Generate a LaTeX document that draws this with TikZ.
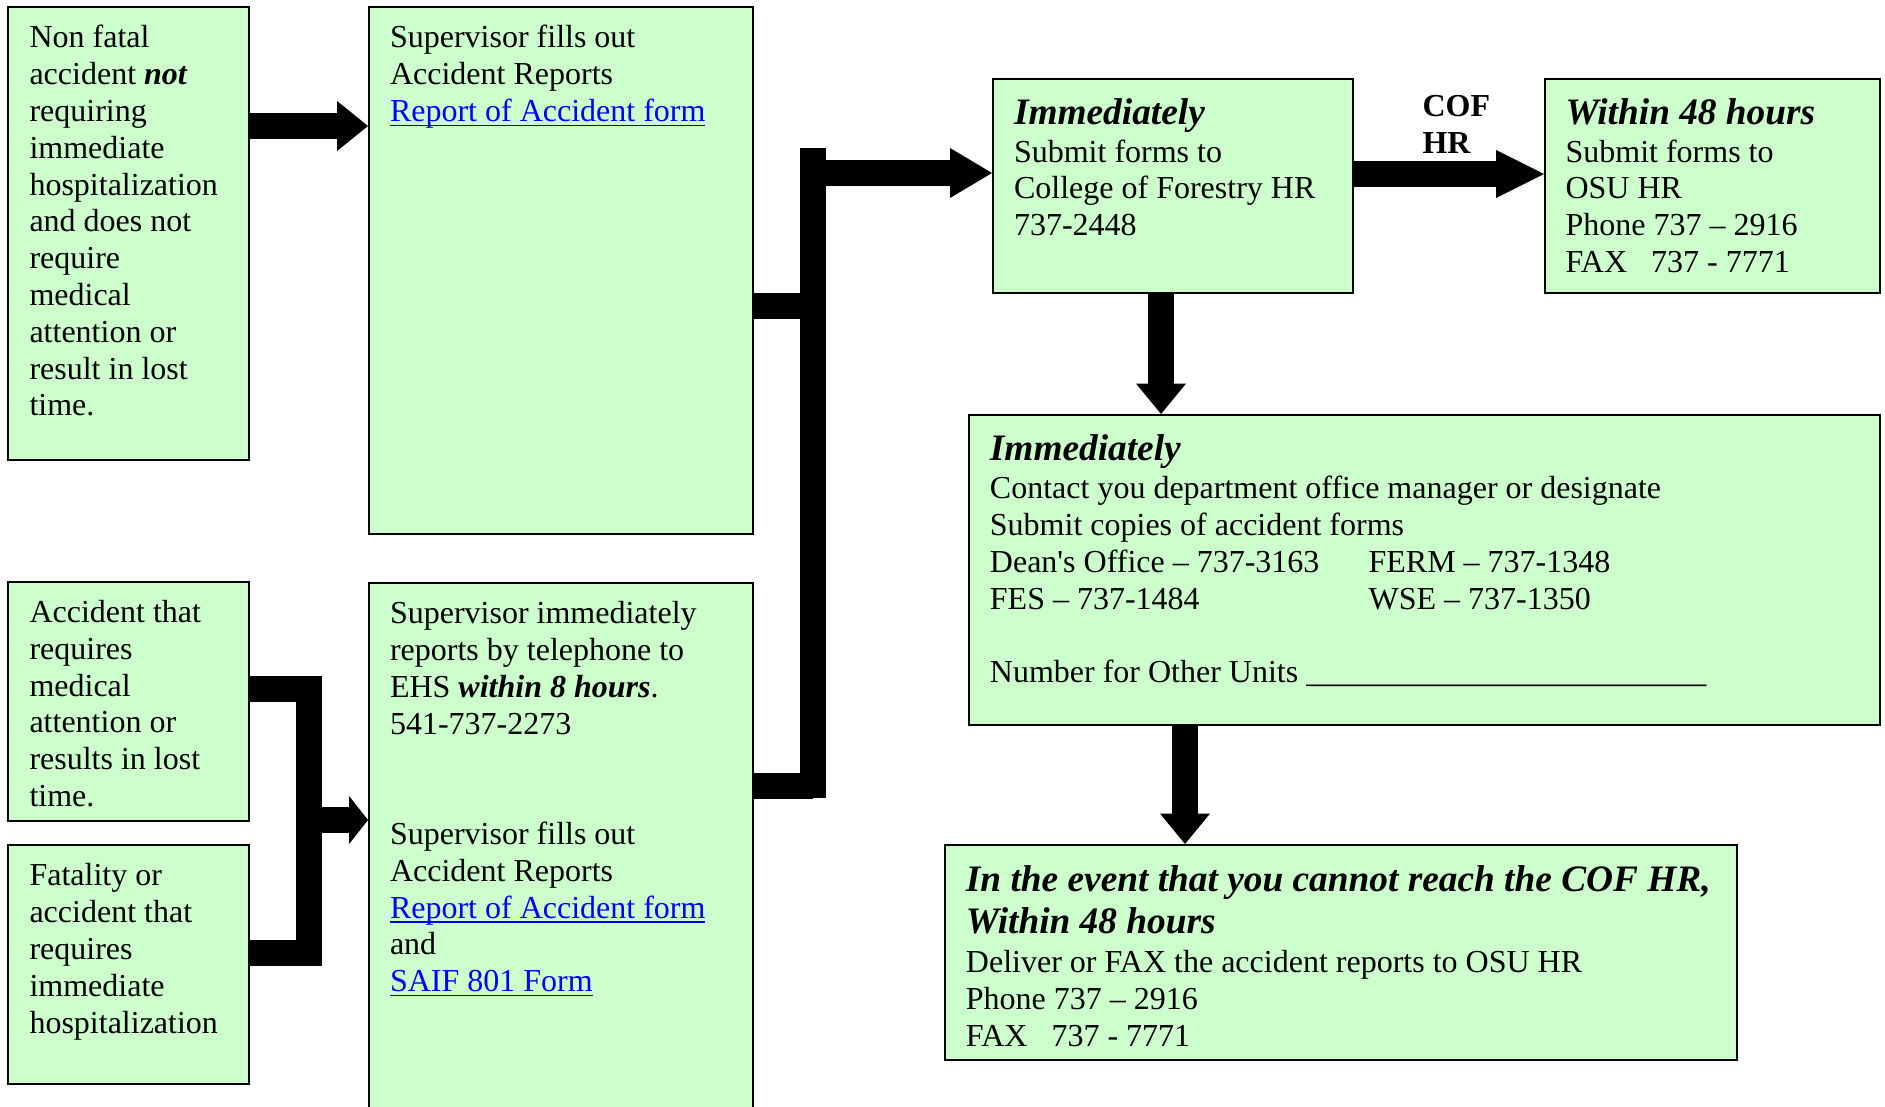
\documentclass[tikz,border=0pt]{standalone}
\usepackage{fontspec}
\setmainfont{Liberation Serif}
\usetikzlibrary{arrows.meta,fit}
\definecolor{boxgreen}{HTML}{CCFFCC}
\definecolor{linkblue}{HTML}{0000FF}
\newcommand{\hdr}[1]{{\fontsize{14}{16.1}\selectfont\bfseries\itshape #1}}
\newcommand{\lnk}[1]{\leavevmode{\color{linkblue}\setbox0=\hbox{#1}\rlap{\rule[-1.7pt]{\wd0}{0.6pt}}\box0}}
\newcommand{\bi}[1]{\textbf{\textit{#1}}}
\newcommand{\tb}[1]{\parbox[t]{330pt}{\raggedright #1}}
\begin{document}
\begin{tikzpicture}[x=0.375pt,y=-0.375pt,
  box/.style={draw=black, line width=0.75pt, fill=boxgreen, inner sep=0pt, rectangle},
  txt/.style={anchor=base west, inner sep=0pt, font=\fontsize{12}{13.8}\selectfont},
  conn/.style={line width=9.75pt, line join=miter, draw=black},
  tipA/.style={-{Triangle[length=11.6pt,width=18.75pt,line width=0pt]}},
  tipF/.style={-{Triangle[length=15.75pt,width=18.75pt,line width=0pt]}},
  tipE/.style={-{Triangle[length=7.1pt,width=18pt,line width=0pt]}},
  tipG/.style={-{Triangle[length=18pt,width=18pt,line width=0pt]}},
  tipH/.style={-{Triangle[length=11.4pt,width=18.75pt,line width=0pt]}}
]
\useasboundingbox (0,0) rectangle (1885,1107);
\clip (0,0) rectangle (1885,1107);
% boxes
\node[box, fit={(8,7) (249,460)}] (A) {};
\node[box, fit={(369,7) (753,534)}] (B) {};
\node[box, fit={(8,582) (249,821)}] (C) {};
\node[box, fit={(8,845) (249,1084)}] (D) {};
\node[box, fit={(369,583) (753,1130)}] (E) {};
\node[box, fit={(993,79) (1353,293)}] (F) {};
\node[box, fit={(1545,79) (1880,293)}] (G) {};
\node[box, fit={(969,415) (1880,725)}] (H) {};
\node[box, fit={(945,845) (1737,1060)}] (I) {};
% connectors
\coordinate (busTop) at (813,148);
\coordinate (busBot) at (813,798);
\coordinate (cdBus) at (309,689);
\draw[conn, tipA] (A.east |- 0,126) -- (B.west |- 0,126);
\draw[conn] (busTop) -- (busBot);
\draw[conn] (B.east |- 0,306) -- (busTop |- 0,306);
\draw[conn] (E.east |- 0,786) -- (busTop |- 0,786);
\draw[conn, tipF] (800,173) -- (F.west |- 0,173);
\draw[conn] (C.east |- cdBus) -- (cdBus) -- (cdBus |- 0,953) -- (D.east |- 0,953);
\draw[conn, tipE] (cdBus |- 0,820) -- (E.west |- 0,820);
\draw[conn, tipG] (F.east |- 0,174) -- (G.west |- 0,174);
\draw[conn, tipH] (F.south -| 1161,0) -- (H.north -| 1161,0);
\draw[conn, tipH] (H.south -| 1185,0) -- (I.north -| 1185,0);
% texts
\node[txt] (tA) at (29,48) {\tb{Non fatal\\accident \bi{not}\\requiring\\immediate\\hospitalization\\and does not\\require\\medical\\attention or\\result in lost\\time.}};
\node[txt] (tB) at (389.5,48) {\tb{Supervisor fills out\\Accident Reports\\\lnk{Report of Accident form}}};
\node[txt] (tC) at (29,622.5) {\tb{Accident that\\requires\\medical\\attention or\\results in lost\\time.}};
\node[txt] (tD) at (29,885.8) {\tb{Fatality or\\accident that\\requires\\immediate\\hospitalization}};
\node[txt] (tE) at (389.5,623.7) {\tb{Supervisor immediately\\reports by telephone to\\EHS \bi{within 8 hours}.\\541-737-2273\\[27.6pt]Supervisor fills out\\Accident Reports\\\lnk{Report of Accident form}\\and\\\lnk{SAIF 801 Form}}};
\node[txt] (tF) at (1013.5,124.2) {\tb{\hdr{Immediately}\\[0.4pt]Submit forms to\\College of Forestry HR\\737-2448}};
\node[txt] (tG) at (1565,124.2) {\tb{\hdr{Within 48 hours}\\[0.4pt]Submit forms to\\OSU HR\\Phone 737 – 2916\\FAX\ \ \ 737 - 7771}};
\node[txt] (tH) at (989.4,460.8) {\tb{\hdr{Immediately}\\[0.4pt]Contact you department office manager or designate\\Submit copies of accident forms\\\makebox[142pt][l]{Dean\textquotesingle s Office – 737-3163}FERM – 737-1348\\\makebox[142pt][l]{FES – 737-1484}WSE – 737-1350\\[13.8pt]Number for Other Units \_\_\_\_\_\_\_\_\_\_\_\_\_\_\_\_\_\_\_\_\_\_\_\_\_}};
\node[txt] (tI) at (965.4,891.2) {\tb{\hdr{In the event that you cannot reach the COF HR,}\\[2pt]\hdr{Within 48 hours}\\[0.9pt]Deliver or FAX the accident reports to OSU HR\\Phone 737 – 2916\\FAX\ \ \ 737 - 7771}};
\node[txt, font=\fontsize{12}{13.8}\selectfont\bfseries] (cof) at (1422,117) {\tb{COF\\HR}};
\end{tikzpicture}
\end{document}
